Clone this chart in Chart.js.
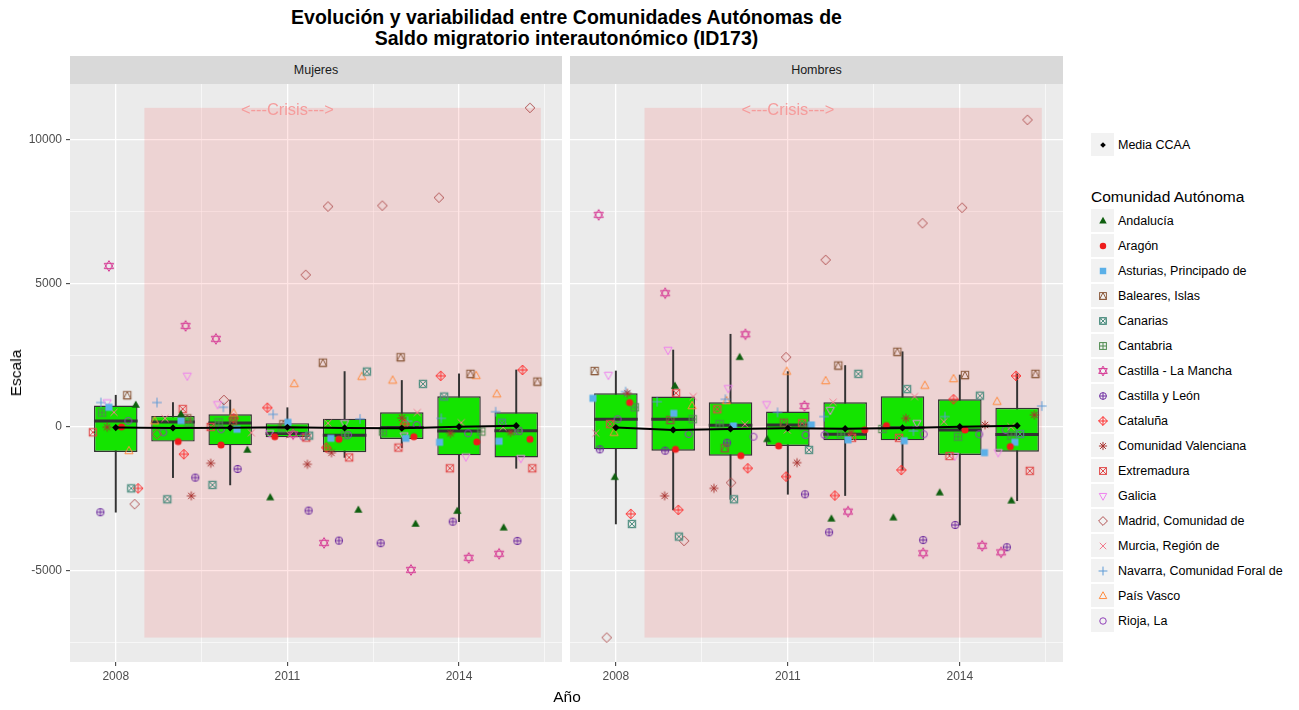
<!DOCTYPE html>
<html lang="es">
<head>
<meta charset="utf-8">
<title>Saldo migratorio interautonómico (ID173)</title>
<script src="https://cdn.jsdelivr.net/npm/chart.js"></script>
<style>
  html,body{margin:0;padding:0;background:#fff;}
  body{width:1299px;height:710px;position:relative;overflow:hidden;font-family:"Liberation Sans",Arial,Helvetica,sans-serif;color:#000;}
  .abs{position:absolute;}
  #title{left:0;top:7px;width:1133px;text-align:center;font-weight:bold;font-size:19.5px;line-height:21px;}
  .strip{top:56px;height:28px;line-height:28px;background:#D9D9D9;text-align:center;font-size:12.5px;color:#1A1A1A;}
  .panel{position:absolute;top:84px;}
  #ytitle{left:16px;top:373px;font-size:15.5px;transform:translate(-50%,-50%) rotate(-90deg);white-space:nowrap;}
  #xtitle{left:567px;top:697px;font-size:15.5px;transform:translate(-50%,-50%);white-space:nowrap;}
  .crisis{font-size:16.4px;color:#F59C9C;transform:translate(-50%,-50%);white-space:nowrap;}
  .key{width:23px;height:23px;background:#F2F2F2;left:1091px;}
  .key canvas{position:absolute;left:3.5px;top:3.5px;}
  .lab{left:1118px;font-size:12.5px;color:#000;white-space:nowrap;transform:translateY(-50%);}
  #legtitle{left:1091px;top:196.5px;font-size:15.5px;transform:translateY(-50%);white-space:nowrap;}
</style>
</head>
<body>
<div id="title" class="abs">Evolución y variabilidad entre Comunidades Autónomas de<br>Saldo migratorio interautonómico (ID173)</div>
<div class="abs strip" style="left:70px;width:492px;">Mujeres</div>
<div class="abs strip" style="left:570px;width:493px;">Hombres</div>
<canvas id="cM" class="panel" width="562" height="606" style="left:0px;width:562px;height:606px;"></canvas>
<canvas id="cH" class="panel" width="493" height="606" style="left:570px;width:493px;height:606px;"></canvas>
<div id="ytitle" class="abs">Escala</div>
<div id="xtitle" class="abs">Año</div>
<div id="legend"></div>
<script>
// ---------------- DATA ----------------
const years = [2008, 2009, 2010, 2011, 2012, 2013, 2014, 2015];
const comunidades = ['Andalucía','Aragón','Asturias, Principado de','Baleares, Islas','Canarias','Cantabria',
  'Castilla - La Mancha','Castilla y León','Cataluña','Comunidad Valenciana','Extremadura','Galicia',
  'Madrid, Comunidad de','Murcia, Región de','Navarra, Comunidad Foral de','País Vasco','Rioja, La'];

// Mujeres: values and horizontal jitter (years) per community
const andaluciaM = [765, 440, -800, -2460, -2890, -3380, -2930, -3510];
const andaluciaMx = [0.35, 0.14, 0.30, -0.30, 0.24, 0.24, -0.03, -0.22];
const aragonM = [0, -510, -630, -340, -430, -340, -520, -430];
const aragonMx = [0.10, 0.09, -0.16, -0.22, -0.10, 0.21, 0.31, 0.24];
const asturiasM = [685, 220, -80, 160, -395, -395, -535, -500];
const asturiasMx = [-0.12, 0.14, 0.12, 0.01, -0.24, 0.07, -0.34, -0.30];
const balearesM = [1105, 300, 200, 95, 2240, 2430, 1850, 1580];
const balearesMx = [0.20, 0.25, 0.05, -0.07, -0.38, -0.02, 0.20, 0.37];
const canariasM = [-2140, -2520, -2020, -300, 1930, 1500, 1060, 150];
const canariasMx = [0.27, -0.10, -0.31, 0.38, 0.39, 0.37, -0.26, -0.25];
const cantabriaM = [500, 150, 160, -50, -290, -160, -160, -140];
const cantabriaMx = [-0.24, 0.27, -0.20, -0.10, 0.01, -0.33, 0.39, 0.03];
const clmM = [5610, 3520, 3070, -250, -4040, -4980, -4560, -4420];
const clmMx = [-0.12, 0.22, -0.25, 0.10, -0.36, 0.16, 0.17, -0.30];
const cylM = [-2970, -1765, -1465, -2915, -3960, -4050, -3300, -3970];
const cylMx = [-0.27, 0.39, 0.13, 0.37, -0.10, -0.37, -0.11, 0.02];
const catM = [-2140, -950, 300, 670, -720, 100, 1780, 1985];
const catMx = [0.39, 0.19, 0.06, -0.35, -0.32, 0.05, -0.32, 0.11];
const cvalM = [-10, -2400, -1265, -1300, -900, 310, -220, -185];
const cvalMx = [-0.15, 0.32, -0.34, 0.35, -0.23, 0.00, -0.15, -0.10];
const extM = [-185, 625, 0, -370, -1060, -720, -1440, -1440];
const extMx = [-0.40, 0.17, -0.34, 0.33, 0.08, -0.06, -0.16, 0.28];
const galM = [850, 1780, 790, -220, 130, -300, -1035, -1090];
const galMx = [-0.15, 0.25, -0.22, -0.31, 0.00, 0.04, 0.12, 0.08];
const madM = [-2690, -250, 940, 5300, 7680, 7710, 7990, 11120];
const madMx = [0.33, -0.28, -0.11, 0.32, -0.29, -0.34, -0.35, 0.24];
const murM = [510, 300, -200, -280, 130, 500, 150, -10];
const murMx = [-0.03, -0.14, 0.37, 0.04, -0.29, 0.27, 0.04, -0.23];
const navM = [850, 850, 685, 440, 280, 200, 300, 530];
const navMx = [-0.26, -0.28, -0.12, -0.25, 0.27, 0.10, -0.31, -0.36];
const pvM = [-835, 200, 475, 1500, 1750, 1620, 1780, 1140];
const pvMx = [0.23, -0.32, 0.06, 0.12, 0.30, -0.16, 0.30, -0.34];
const rioM = [210, -185, -80, -340, -280, 70, -220, -140];
const rioMx = [0.22, -0.17, -0.16, 0.28, 0.06, 0.26, 0.16, 0.05];

// Hombres
const andaluciaH = [-1750, 1430, 2430, -430, -3200, -3160, -2290, -2570];
const andaluciaHx = [-0.02, 0.03, 0.16, -0.36, -0.24, -0.16, -0.35, -0.10];
const aragonH = [850, -780, -1000, -660, -105, 45, -105, -685];
const aragonHx = [0.24, 0.04, 0.18, -0.16, 0.34, -0.28, 0.09, -0.12];
const asturiasH = [1000, 475, 35, 70, -450, -480, -895, -535];
const asturiasHx = [-0.40, 0.01, 0.05, 0.41, 0.05, 0.03, 0.43, -0.04];
const balearesH = [1950, 245, -740, 150, 2140, 2620, 1810, 1850];
const balearesHx = [-0.37, -0.05, -0.10, -0.07, -0.12, -0.09, 0.09, 0.32];
const canariasH = [-3380, -3820, -2520, -800, 1850, 1320, 1090, -245];
const canariasHx = [0.28, 0.10, 0.06, 0.37, 0.23, 0.08, 0.35, 0.05];
const cantabriaH = [685, 270, 95, 30, -255, -70, -340, -300];
const cantabriaHx = [0.33, 0.34, -0.19, 0.28, -0.07, -0.35, -0.03, -0.10];
const clmH = [7390, 4660, 3230, 730, -2950, -4400, -4140, -4370];
const clmHx = [-0.30, -0.14, 0.26, 0.29, 0.05, 0.36, 0.39, -0.28];
const cylH = [-780, -825, -550, -2345, -3670, -3940, -3415, -4190];
const cylHx = [-0.28, -0.14, -0.06, 0.30, -0.28, 0.36, -0.08, -0.18];
const catH = [-3030, -2890, -1440, -1730, -2390, -1500, 965, 1780];
const catHx = [0.26, 0.09, 0.30, -0.03, -0.18, -0.02, -0.11, -0.02];
const cvalH = [1175, -2400, -2140, -1245, -200, 300, 70, 420];
const cvalHx = [0.20, -0.15, -0.29, 0.16, 0.10, 0.06, 0.44, 0.30];
const extH = [100, 1180, 615, 130, -380, -380, -1010, -1530];
const extHx = [-0.10, 0.05, -0.23, 0.25, 0.12, -0.06, -0.18, 0.22];
const galH = [1810, 2680, 1350, 790, 590, 130, -1010, -885];
const galHx = [-0.13, -0.09, -0.04, -0.37, -0.26, 0.25, -0.09, -0.33];
const madH = [-7340, -3970, -1940, 2430, 5820, 7100, 7640, 10700];
const madHx = [-0.16, 0.19, 0.01, -0.03, -0.34, 0.35, 0.04, 0.18];
const murH = [-220, 1060, 95, -105, 860, 1060, 185, 10];
const murHx = [-0.35, 0.35, 0.25, -0.01, -0.21, 0.21, -0.28, -0.11];
const navH = [1230, 880, 965, 510, 360, -140, 360, 730];
const navHx = [0.17, -0.28, -0.09, -0.18, -0.37, 0.19, -0.26, 0.43];
const pvH = [-200, 730, 905, 1930, 1600, 1440, 1670, 880];
const pvHx = [-0.03, 0.33, -0.07, -0.02, -0.34, 0.39, -0.11, -0.35];
const rioH = [270, -245, -340, -280, -280, -255, -255, -105];
const rioHx = [0.03, 0.27, 0.40, 0.31, -0.36, 0.37, 0.34, -0.20];

// Boxplot statistics
const q1M = [-870, -510, -640, -360, -880, -420, -990, -1060];
const medM = [210, 170, 140, -230, -290, -20, -140, -130];
const q3M = [745, 383, 440, 130, 290, 510, 1070, 510];
const loM = [-2970, -1765, -2020, -370, -1060, -720, -3300, -1440];
const hiM = [1105, 850, 940, 670, 1930, 1620, 1850, 1985];
const meanM = [-20, -35, -30, -10, -35, -45, 10, 45];

const q1H = [-780, -825, -1000, -660, -465, -465, -975, -860];
const medH = [270, 270, 60, 70, -255, -30, -105, -265];
const q3H = [1175, 1060, 860, 535, 860, 1070, 965, 670];
const loH = [-3380, -2890, -2520, -2345, -2390, -1500, -3415, -2570];
const hiH = [1950, 2680, 3230, 1930, 2140, 2620, 1810, 1850];
const meanH = [-20, -105, -70, -45, -60, -35, 10, 45];

// Crisis band and label (data units)
const crisisX = [2008.5, 2015.43];
const crisisY = [-7340, 11120];
const crisisLabel = [2011, 11080];

// Axes
const xRange = [2007.2, 2015.8];
const yRange = [-8190, 11950];
const xTicks = [2008, 2009.5, 2011, 2012.5, 2014, 2015.5];
const xMajor = [2008, 2011, 2014];
const yTicks = [-7500, -5000, -2500, 0, 2500, 5000, 7500, 10000];
const yMajor = [-5000, 0, 5000, 10000];

const mujVals = [andaluciaM, aragonM, asturiasM, balearesM, canariasM, cantabriaM, clmM, cylM, catM, cvalM, extM, galM, madM, murM, navM, pvM, rioM];
const mujJit = [andaluciaMx, aragonMx, asturiasMx, balearesMx, canariasMx, cantabriaMx, clmMx, cylMx, catMx, cvalMx, extMx, galMx, madMx, murMx, navMx, pvMx, rioMx];
const homVals = [andaluciaH, aragonH, asturiasH, balearesH, canariasH, cantabriaH, clmH, cylH, catH, cvalH, extH, galH, madH, murH, navH, pvH, rioH];
const homJit = [andaluciaHx, aragonHx, asturiasHx, balearesHx, canariasHx, cantabriaHx, clmHx, cylHx, catHx, cvalHx, extHx, galHx, madHx, murHx, navHx, pvHx, rioHx];

// ---------------- STYLE ----------------
const colores = ['#0F5F0F','#EE1C1C','#5BB0E8','#8B5A3C','#4E8E80','#4F8A4F','#D63C96','#6E2DA0','#FF2A2A',
  '#A8322F','#E04848','#EE82EE','#B05050','#F27A8C','#5E9BD6','#FF8A3D','#9040B8'];
const formas = ['triFill','circFill','sqFill','sqTri','circX','sqPlus','david','circPlus','diamPlus',
  'asterisk','sqX','triDown','diam','x','plus','tri','circ'];
const FONT = '"Liberation Sans", Arial, Helvetica, sans-serif';

function drawShape(ctx, shape, cx, cy, r, color) {
  ctx.save();
  ctx.strokeStyle = color; ctx.fillStyle = color; ctx.lineWidth = 1;
  const poly = pts => { ctx.beginPath(); pts.forEach((p, i) => i ? ctx.lineTo(cx + p[0], cy + p[1]) : ctx.moveTo(cx + p[0], cy + p[1])); ctx.closePath(); };
  const seg = (a, b, c, d) => { ctx.beginPath(); ctx.moveTo(cx + a, cy + b); ctx.lineTo(cx + c, cy + d); ctx.stroke(); };
  const circle = rr => { ctx.beginPath(); ctx.arc(cx, cy, rr, 0, Math.PI * 2); };
  const square = h => { ctx.strokeRect(cx - h, cy - h, 2 * h, 2 * h); };
  switch (shape) {
    case 'triFill': poly([[0, -1.25 * r], [1.1 * r, 0.75 * r], [-1.1 * r, 0.75 * r]]); ctx.fill(); break;
    case 'circFill': circle(0.95 * r); ctx.fill(); break;
    case 'sqFill': ctx.fillRect(cx - 0.95 * r, cy - 0.95 * r, 1.9 * r, 1.9 * r); break;
    case 'sqTri': square(r); poly([[0, -r], [r, r], [-r, r]]); ctx.stroke(); break;
    case 'circX': circle(r); ctx.stroke(); seg(-0.71 * r, -0.71 * r, 0.71 * r, 0.71 * r); seg(-0.71 * r, 0.71 * r, 0.71 * r, -0.71 * r); square(r); break;
    case 'sqPlus': square(r); seg(-r, 0, r, 0); seg(0, -r, 0, r); break;
    case 'david': poly([[0, -1.45 * r], [1.26 * r, 0.72 * r], [-1.26 * r, 0.72 * r]]); ctx.stroke();
      poly([[0, 1.45 * r], [1.26 * r, -0.72 * r], [-1.26 * r, -0.72 * r]]); ctx.stroke(); break;
    case 'circPlus': circle(r); ctx.stroke(); seg(-r, 0, r, 0); seg(0, -r, 0, r); break;
    case 'diamPlus': poly([[0, -1.3 * r], [1.3 * r, 0], [0, 1.3 * r], [-1.3 * r, 0]]); ctx.stroke(); seg(-1.3 * r, 0, 1.3 * r, 0); seg(0, -1.3 * r, 0, 1.3 * r); break;
    case 'asterisk': seg(-1.2 * r, 0, 1.2 * r, 0); seg(0, -1.2 * r, 0, 1.2 * r); seg(-0.85 * r, -0.85 * r, 0.85 * r, 0.85 * r); seg(-0.85 * r, 0.85 * r, 0.85 * r, -0.85 * r); break;
    case 'sqX': square(r); seg(-r, -r, r, r); seg(-r, r, r, -r); break;
    case 'triDown': poly([[0, 1.25 * r], [1.1 * r, -0.75 * r], [-1.1 * r, -0.75 * r]]); ctx.stroke(); break;
    case 'diam': poly([[0, -1.3 * r], [1.3 * r, 0], [0, 1.3 * r], [-1.3 * r, 0]]); ctx.stroke(); break;
    case 'x': seg(-0.95 * r, -0.95 * r, 0.95 * r, 0.95 * r); seg(-0.95 * r, 0.95 * r, 0.95 * r, -0.95 * r); break;
    case 'plus': seg(-1.3 * r, 0, 1.3 * r, 0); seg(0, -1.3 * r, 0, 1.3 * r); break;
    case 'tri': poly([[0, -1.25 * r], [1.1 * r, 0.75 * r], [-1.1 * r, 0.75 * r]]); ctx.stroke(); break;
    case 'circ': circle(0.95 * r); ctx.stroke(); break;
    case 'meanDiam': poly([[0, -r], [r, 0], [0, r], [-r, 0]]); ctx.fill(); break;
  }
  ctx.restore();
}
function symbolCanvas(shape, color, r) {
  const c = document.createElement('canvas');
  c.width = 16; c.height = 16;
  drawShape(c.getContext('2d'), shape, 8, 8, r, color);
  return c;
}
const simbolos = formas.map((f, k) => symbolCanvas(f, colores[k], 3.7));

// ---------------- PLUGINS ----------------
const bgPlugin = {
  id: 'panelBg',
  beforeDraw(chart) {
    const a = chart.chartArea, ctx = chart.ctx;
    ctx.save(); ctx.fillStyle = '#EBEBEB';
    ctx.fillRect(a.left, a.top, a.right - a.left, a.bottom - a.top);
    ctx.restore();
  }
};
const crisisPlugin = {
  id: 'crisisBand',
  beforeDatasetsDraw(chart) {
    const x = chart.scales.x, y = chart.scales.y, ctx = chart.ctx;
    const x0 = x.getPixelForValue(crisisX[0]), x1 = x.getPixelForValue(crisisX[1]);
    const y0 = y.getPixelForValue(crisisY[1]), y1 = y.getPixelForValue(crisisY[0]);
    ctx.save(); ctx.fillStyle = 'rgba(255,0,0,0.1)';
    ctx.fillRect(x0, y0, x1 - x0, y1 - y0);
    ctx.restore();
  }
};

Chart.defaults.font.family = FONT;

function makeChart(id, leftOffset, vals, jits, q1, med, q3, lo, hi, mean, showY) {
  const datasets = [];
  datasets.push({
    type: 'line', label: 'Media CCAA',
    data: years.map((yr, i) => ({ x: yr, y: mean[i] })),
    borderColor: '#000', borderWidth: 2, tension: 0,
    pointStyle: 'rectRot', pointRadius: 3.6, pointBackgroundColor: '#000', pointBorderColor: '#000', pointBorderWidth: 0,
    order: 0
  });
  comunidades.forEach((c, k) => {
    datasets.push({
      type: 'scatter', label: c,
      data: years.map((yr, i) => ({ x: yr + jits[k][i], y: vals[k][i] })),
      pointStyle: simbolos[k], pointRadius: 5, order: 1
    });
  });
  datasets.push({
    type: 'scatter', label: 'Mediana',
    data: years.map((yr, i) => ({ x: yr, y: med[i] })),
    pointStyle: 'line', pointRadius: 21.8, pointBorderColor: '#333333', pointBorderWidth: 3, order: 2
  });
  datasets.push({
    type: 'bar', label: 'Caja',
    data: years.map((yr, i) => ({ x: yr, y: [q1[i], q3[i]] })),
    backgroundColor: '#14E400', borderColor: '#333333', borderWidth: 1.4, borderSkipped: false,
    grouped: false, categoryPercentage: 1, barPercentage: 0.76, order: 3
  });
  datasets.push({
    type: 'bar', label: 'Bigotes',
    data: years.map((yr, i) => ({ x: yr, y: [lo[i], hi[i]] })),
    backgroundColor: '#333333', borderWidth: 0, barThickness: 1.3, grouped: false, order: 4
  });

  const zeroPad = s => { s.paddingTop = 0; s.paddingBottom = 0; s.paddingLeft = 0; s.paddingRight = 0; };
  const chart = new Chart(document.getElementById(id), {
    type: 'bar',
    data: { datasets },
    plugins: [bgPlugin, crisisPlugin],
    options: {
      responsive: false, animation: false, events: [],
      layout: { padding: 0, autoPadding: false },
      plugins: { legend: { display: false }, tooltip: { enabled: false } },
      scales: {
        x: {
          type: 'linear', min: xRange[0], max: xRange[1], offset: false,
          afterBuildTicks: s => { s.ticks = xTicks.map(v => ({ value: v })); },
          afterFit: s => { s.height = 28; zeroPad(s); },
          border: { display: false },
          grid: {
            offset: false, color: '#FFFFFF', drawTicks: true, tickLength: 4, tickWidth: 1,
            lineWidth: c => (c.tick && xMajor.includes(c.tick.value)) ? 1.3 : 0.6,
            tickColor: c => (c.tick && xMajor.includes(c.tick.value)) ? '#333333' : 'rgba(0,0,0,0)'
          },
          ticks: {
            autoSkip: false, maxRotation: 0, minRotation: 0, padding: 3, color: '#4D4D4D',
            font: { size: 12, family: FONT },
            callback: v => xMajor.includes(v) ? String(v) : ''
          }
        },
        y: {
          type: 'linear', min: yRange[0], max: yRange[1],
          afterBuildTicks: s => { s.ticks = yTicks.map(v => ({ value: v })); },
          afterFit: s => { s.width = showY ? 70 : 0; zeroPad(s); },
          border: { display: false },
          grid: {
            color: '#FFFFFF', drawTicks: showY, tickLength: showY ? 4 : 0, tickWidth: 1,
            lineWidth: c => (c.tick && yMajor.includes(c.tick.value)) ? 1.3 : 0.6,
            tickColor: c => (c.tick && yMajor.includes(c.tick.value)) ? '#333333' : 'rgba(0,0,0,0)'
          },
          ticks: {
            display: showY, padding: 4, color: '#4D4D4D',
            font: { size: 12, family: FONT },
            callback: v => yMajor.includes(v) ? String(v) : ''
          }
        }
      }
    }
  });
  const lbl = document.createElement('div');
  lbl.className = 'abs crisis';
  lbl.textContent = '<---Crisis--->';
  lbl.style.left = (leftOffset + chart.scales.x.getPixelForValue(crisisLabel[0])) + 'px';
  lbl.style.top = (84 + chart.scales.y.getPixelForValue(crisisLabel[1])) + 'px';
  document.body.appendChild(lbl);
  return chart;
}

makeChart('cM', 0, mujVals, mujJit, q1M, medM, q3M, loM, hiM, meanM, true);
makeChart('cH', 570, homVals, homJit, q1H, medH, q3H, loH, hiH, meanH, false);

// ---------------- LEGEND ----------------
const legend = document.getElementById('legend');
function addKey(top, canvas) {
  const k = document.createElement('div');
  k.className = 'abs key'; k.style.top = top + 'px';
  k.appendChild(canvas); legend.appendChild(k);
}
function addLabel(centerY, text) {
  const d = document.createElement('div');
  d.className = 'abs lab'; d.style.top = centerY + 'px'; d.textContent = text;
  legend.appendChild(d);
}
addKey(133, symbolCanvas('meanDiam', '#000', 2.8));
addLabel(144.5, 'Media CCAA');
const lt = document.createElement('div');
lt.id = 'legtitle'; lt.className = 'abs'; lt.textContent = 'Comunidad Autónoma';
legend.appendChild(lt);
comunidades.forEach((c, k) => {
  const cy = 220.7 + 25 * k;
  addKey(cy - 11.5, symbolCanvas(formas[k], colores[k], 3.4));
  addLabel(cy, c);
});
</script>
</body>
</html>
